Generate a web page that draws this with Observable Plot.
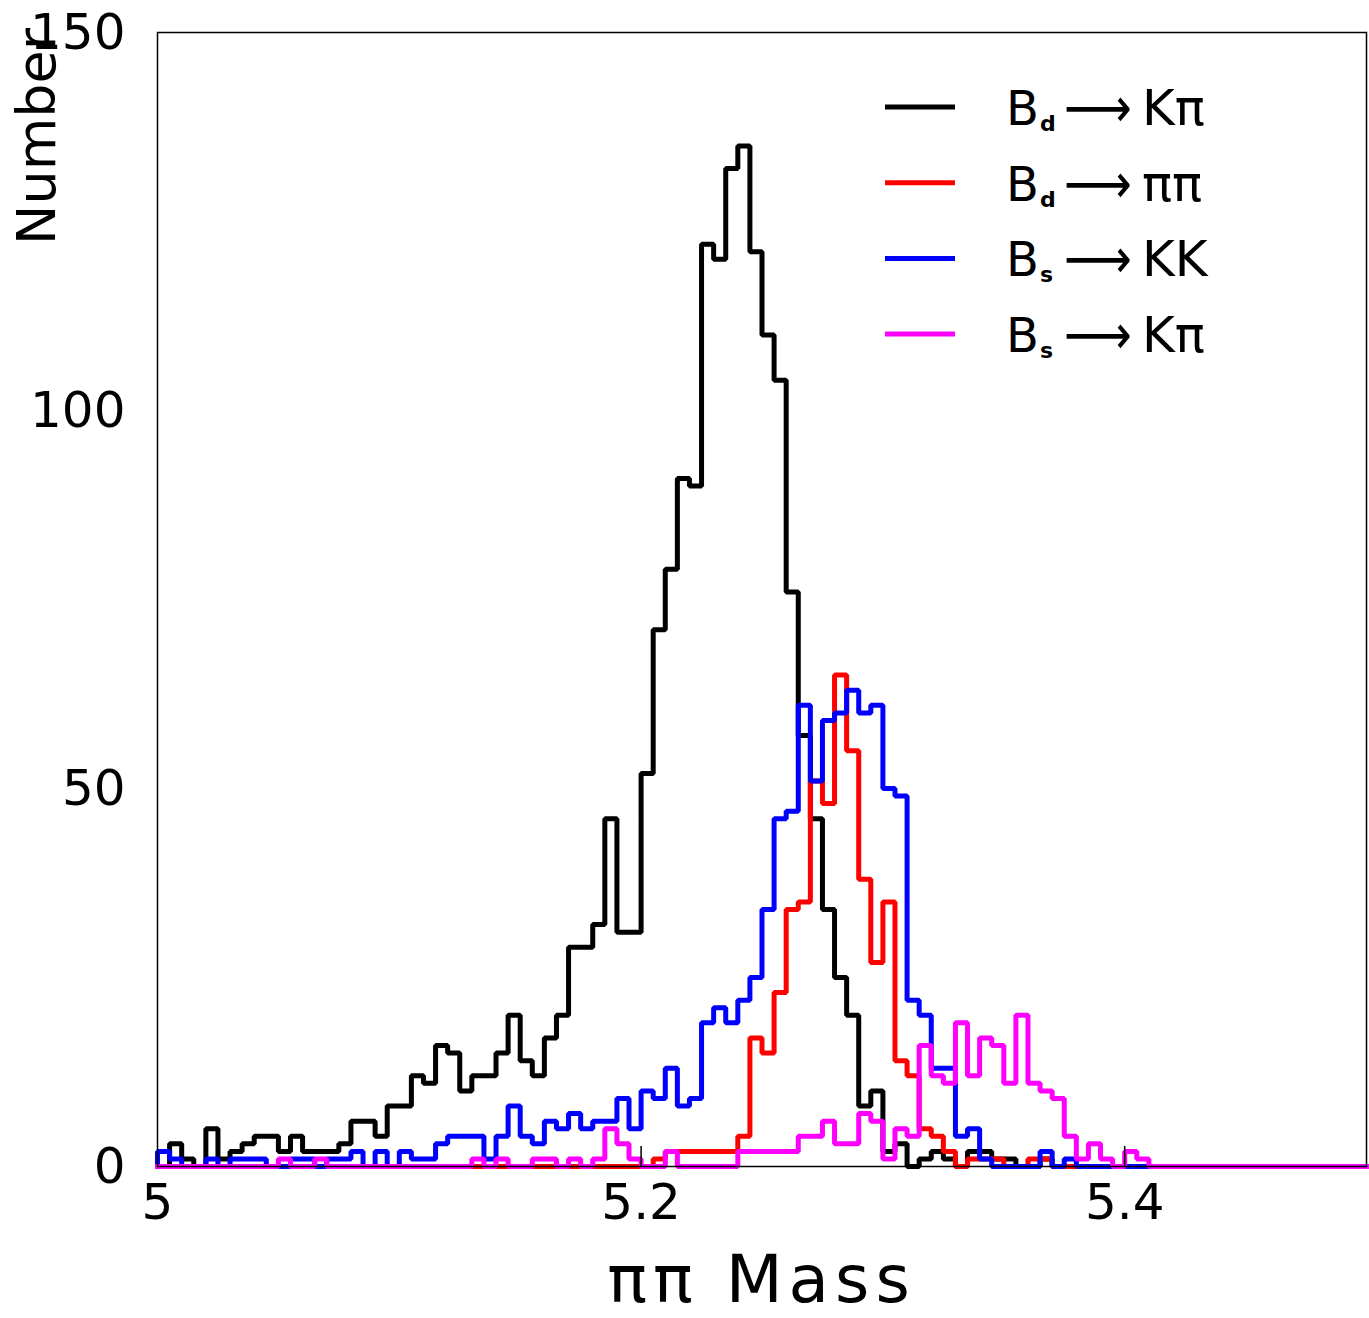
<!DOCTYPE html>
<html>
<head>
<meta charset="utf-8">
<script src="https://cdn.jsdelivr.net/npm/d3@7"></script>
<script src="https://cdn.jsdelivr.net/npm/@observablehq/plot@0.6"></script>
<style>
html, body { margin: 0; padding: 0; background: #fff; }
#chart { width: 1369px; height: 1318px; }
</style>
</head>
<body>
<div id="chart"></div>
<script>
// ---- data (100 bins of width 0.005 from 5.0 to 5.5) ----
const xMin = 5.0;
const xMax = 5.5;
const binWidth = 0.005;
const xTicks = [5, 5.2, 5.4];
const yTicks = [0, 50, 100, 150];

const seriesLabels = ["Kπ", "ππ", "KK", "Kπ"];
const seriesParents = ["B", "B", "B", "B"];
const seriesSubs = ["d", "d", "s", "s"];
const seriesColors = ["#000000", "#ff0000", "#0000ff", "#ff00ff"];

const bdKpi = [
  0, 3, 1, 0, 5, 1, 2, 3, 4, 4,
  2, 4, 2, 2, 2, 3, 6, 6, 4, 8,
  8, 12, 11, 16, 15, 10, 12, 12, 15, 20,
  14, 12, 17, 20, 29, 29, 32, 46, 31, 31,
  52, 71, 79, 91, 90, 122, 120, 132, 135, 121,
  110, 104, 76, 57, 46, 34, 25, 20, 8, 10,
  2, 3, 0, 1, 2, 1, 0, 2, 2, 1,
  1, 0, 0, 1, 0, 0, 0, 0, 0, 0,
  0, 0, 0, 0, 0, 0, 0, 0, 0, 0,
  0, 0, 0, 0, 0, 0, 0, 0, 0, 0
];
const bdPipi = [
  0, 0, 0, 0, 0, 0, 0, 0, 0, 0,
  0, 0, 0, 0, 0, 0, 0, 0, 0, 0,
  0, 0, 0, 0, 0, 0, 0, 0, 0, 0,
  0, 0, 0, 0, 0, 0, 0, 0, 0, 0,
  0, 1, 2, 2, 2, 2, 2, 2, 4, 17,
  15, 23, 34, 35, 51, 48, 65, 55, 38, 27,
  35, 14, 12, 5, 4, 2, 0, 1, 1, 1,
  0, 0, 1, 1, 0, 0, 0, 0, 0, 0,
  0, 0, 0, 0, 0, 0, 0, 0, 0, 0,
  0, 0, 0, 0, 0, 0, 0, 0, 0, 0
];
const bsKK = [
  2, 1, 0, 0, 1, 0, 1, 1, 1, 0,
  0, 1, 1, 0, 1, 1, 2, 0, 2, 0,
  2, 1, 1, 3, 4, 4, 4, 1, 4, 8,
  4, 3, 6, 5, 7, 5, 6, 6, 9, 5,
  10, 9, 13, 8, 9, 19, 21, 19, 22, 25,
  34, 46, 47, 61, 51, 59, 60, 63, 60, 61,
  50, 49, 22, 20, 13, 13, 4, 5, 1, 0,
  0, 0, 0, 2, 0, 1, 0, 0, 0, 0,
  0, 0, 0, 0, 0, 0, 0, 0, 0, 0,
  0, 0, 0, 0, 0, 0, 0, 0, 0, 0
];
const bsKpi = [
  0, 0, 0, 0, 0, 0, 0, 0, 0, 0,
  1, 0, 0, 1, 0, 0, 0, 0, 0, 0,
  0, 0, 0, 0, 0, 0, 1, 0, 1, 0,
  0, 1, 1, 0, 1, 0, 1, 5, 3, 1,
  0, 0, 2, 0, 0, 0, 0, 0, 2, 2,
  2, 2, 2, 4, 4, 6, 3, 3, 7, 6,
  1, 5, 4, 16, 12, 11, 19, 12, 17, 16,
  11, 20, 11, 10, 9, 4, 1, 3, 1, 0,
  2, 1, 0, 0, 0, 0, 0, 0, 0, 0,
  0, 0, 0, 0, 0, 0, 0, 0, 0, 0
];

const seriesValues = [bdKpi, bdPipi, bsKK, bsKpi];

// bin low edges
const binLow = d3.range(bdKpi.length).map(i => +(xMin + i * binWidth).toFixed(4));

function outline(values) {
  const pts = [{x: xMin, y: 0}];
  values.forEach((v, i) => pts.push({x: binLow[i], y: v}));
  pts.push({x: xMax, y: values[values.length - 1]});
  return pts;
}

const W = 1369, H = 1318;
const mL = 157, mR = 3, mT = 32, mB = 152;
const frameH = H - mT - mB;

const lineMarks = seriesValues.map((vals, k) =>
  Plot.line(outline(vals), {
    x: "x", y: "y", curve: "step-after",
    stroke: seriesColors[k], strokeWidth: 5,
    strokeLinejoin: "miter", strokeLinecap: "square"
  })
);

const plot = Plot.plot({
  width: W, height: H,
  marginLeft: mL, marginRight: mR, marginTop: mT, marginBottom: mB,
  style: {fontFamily: "DejaVu Sans", background: "#fff", color: "#000", overflow: "visible"},
  x: {domain: [xMin, xMax]},
  y: {domain: [0, 150]},
  marks: [
    ...lineMarks,
    Plot.frame({stroke: "#000", strokeWidth: 1.5}),
    Plot.ruleX(xTicks.slice(1), {stroke: "#000", strokeWidth: 1.5, insetTop: frameH - 20}),
    Plot.axisX(xTicks, {tickSize: 0, tickPadding: 17, fontSize: 50, label: null, tickFormat: d => String(d)}),
    Plot.axisY(yTicks, {tickSize: 0, tickPadding: 32, fontSize: 50, label: null})
  ]
});

document.getElementById("chart").appendChild(plot);

const svg = d3.select(plot);

// y-axis title (top aligned, rotated)
svg.append("text")
  .attr("transform", "translate(55,28) rotate(-90)")
  .attr("text-anchor", "end")
  .attr("font-family", "DejaVu Sans")
  .attr("font-size", 54)
  .attr("fill", "#000")
  .text("Number");

// x-axis title
svg.append("text")
  .attr("x", (mL + W - mR) / 2)
  .attr("y", 1302)
  .attr("text-anchor", "middle")
  .attr("font-family", "DejaVu Sans")
  .attr("font-size", 66)
  .attr("letter-spacing", 6)
  .attr("fill", "#000")
  .text("ππ Mass");

// legend
const lg = svg.append("g").attr("font-family", "DejaVu Sans").attr("fill", "#000").attr("text-anchor", "start");
seriesLabels.forEach((lab, i) => {
  const cy = 107 + i * 75.7;
  const base = cy + 18;
  lg.append("line")
    .attr("x1", 885).attr("x2", 955).attr("y1", cy).attr("y2", cy)
    .attr("stroke", seriesColors[i]).attr("stroke-width", 5);
  lg.append("text").attr("x", 1006).attr("y", base).attr("font-size", 48).attr("text-anchor", "start").text(seriesParents[i]);
  lg.append("text").attr("x", 1040).attr("y", base + 6).attr("font-size", 22).attr("font-weight", "bold").attr("text-anchor", "start").text(seriesSubs[i]);
  lg.append("text").attr("x", 1064).attr("y", base + 2).attr("font-size", 56).attr("text-anchor", "start")
    .attr("textLength", 68).attr("lengthAdjust", "spacingAndGlyphs").text("⟶");
  lg.append("text").attr("x", 1142).attr("y", base).attr("font-size", 50).attr("text-anchor", "start").text(lab);
});
</script>
</body>
</html>
